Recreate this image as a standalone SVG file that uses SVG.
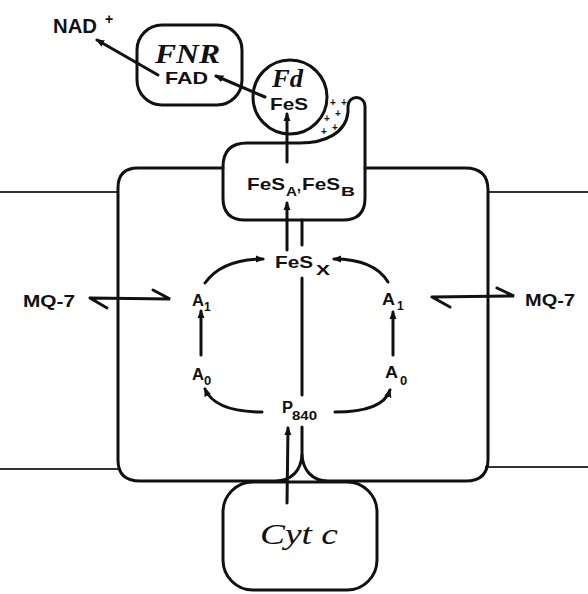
<svg xmlns="http://www.w3.org/2000/svg" width="588" height="594" viewBox="0 0 588 594">
<defs>
<style>
.box{fill:none;stroke:#111;stroke-width:3;stroke-linejoin:round;stroke-linecap:round}
.mem{fill:none;stroke:#333;stroke-width:1.8}
.arr{fill:none;stroke:#111;stroke-width:3;stroke-linecap:round}
.lbl{font-family:"Liberation Sans",Arial,sans-serif;font-weight:bold;fill:#111}
.it{font-family:"Liberation Serif","Times New Roman",serif;font-style:italic;fill:#111}
.plus{font-family:"Liberation Sans",Arial,sans-serif;font-weight:bold;font-size:10px;fill:#111;text-anchor:middle}
</style>
<marker id="ah" viewBox="0 0 10 10" refX="8" refY="5" markerWidth="9" markerHeight="9" markerUnits="userSpaceOnUse" orient="auto">
<path d="M0,1 L10,5 L0,9 Z" fill="#111"/>
</marker>
</defs>
<rect width="588" height="594" fill="#fff"/>

<g id="membrane">
<path class="mem" d="M0,192 L118,192 M488,192 L588,192 M0,469 L121,469 M485,467 L588,467"/>
</g>

<g id="psi-core">
<path class="box" d="M223,168 L138,168 Q118,168 118,188 L118,460 Q118,481 140,481 L275,481 C292,481 301,470 302,455 L302,427"/>
<path class="box" d="M302,455 C303,470 312,481 328,481 L466,481 Q488,481 488,459 L488,190 Q488,168 465,168 L365,168"/>
</g>

<g id="fesab">
<path class="box" d="M247,143 L300,143 C325,143 346,133 348,112 L348,106 A8.5,8.5 0 0 1 365,106 L365,198 Q365,220 343,220 L245,220 Q223,220 223,198 L223,167 Q223,143 247,143 Z" fill="#fff"/>
<text class="lbl" x="247" y="190" font-size="17" textLength="38" lengthAdjust="spacingAndGlyphs">FeS</text>
<text class="lbl" x="286" y="196" font-size="13" textLength="11" lengthAdjust="spacingAndGlyphs">A</text>
<text class="lbl" x="297" y="191" font-size="14">,</text>
<text class="lbl" x="302" y="190" font-size="17" textLength="38" lengthAdjust="spacingAndGlyphs">FeS</text>
<text class="lbl" x="341" y="196" font-size="13" textLength="14" lengthAdjust="spacingAndGlyphs">B</text>
<text class="plus" x="333" y="106">+</text>
<text class="plus" x="344" y="106">+</text>
<text class="plus" x="338" y="117">+</text>
<text class="plus" x="327" y="122">+</text>
<text class="plus" x="335" y="131">+</text>
<text class="plus" x="324" y="135">+</text>
</g>

<g id="fnr">
<rect class="box" x="137" y="25" width="105" height="80" rx="25"/>
<text class="it" x="155" y="63" font-size="27" font-weight="bold" textLength="65" lengthAdjust="spacingAndGlyphs">FNR</text>
<text class="lbl" x="165" y="84" font-size="17" textLength="43" lengthAdjust="spacingAndGlyphs">FAD</text>
</g>

<g id="fd">
<circle class="box" cx="290" cy="97" r="37" fill="#fff"/>
<text class="it" x="272" y="87" font-size="26" font-weight="bold" textLength="31" lengthAdjust="spacingAndGlyphs">Fd</text>
<text class="lbl" x="270" y="110" font-size="17" textLength="38" lengthAdjust="spacingAndGlyphs">FeS</text>
</g>

<g id="nad">
<text class="lbl" x="53" y="33" font-size="20" textLength="44" lengthAdjust="spacingAndGlyphs">NAD</text>
<text class="lbl" x="109" y="24" font-size="14" text-anchor="middle">+</text>
</g>

<g id="fesx">
<text class="lbl" x="275" y="268" font-size="17" textLength="38" lengthAdjust="spacingAndGlyphs">FeS</text>
<text class="lbl" x="316" y="275" font-size="14" textLength="14" lengthAdjust="spacingAndGlyphs">X</text>
</g>

<g id="a1-left">
<text class="lbl" x="192" y="306" font-size="16" textLength="12" lengthAdjust="spacingAndGlyphs">A</text>
<text class="lbl" x="204" y="311" font-size="12">1</text>
</g>
<g id="a0-left">
<text class="lbl" x="192" y="380" font-size="16" textLength="12" lengthAdjust="spacingAndGlyphs">A</text>
<text class="lbl" x="204" y="385" font-size="13">0</text>
</g>
<g id="a1-right">
<text class="lbl" x="382" y="305" font-size="16" textLength="13" lengthAdjust="spacingAndGlyphs">A</text>
<text class="lbl" x="397" y="310" font-size="12">1</text>
</g>
<g id="a0-right">
<text class="lbl" x="385" y="378" font-size="16" textLength="13" lengthAdjust="spacingAndGlyphs">A</text>
<text class="lbl" x="400" y="385" font-size="13">0</text>
</g>

<g id="p840">
<text class="lbl" x="282" y="413" font-size="16" textLength="11" lengthAdjust="spacingAndGlyphs">P</text>
<text class="lbl" x="292" y="420" font-size="12" textLength="25" lengthAdjust="spacingAndGlyphs">840</text>
</g>

<g id="mq7-left">
<text class="lbl" x="23" y="307" font-size="17" textLength="52" lengthAdjust="spacingAndGlyphs">MQ-7</text>
</g>
<g id="mq7-right">
<text class="lbl" x="525" y="306" font-size="17" textLength="50" lengthAdjust="spacingAndGlyphs">MQ-7</text>
</g>

<g id="cytc">
<rect class="box" x="223" y="482" width="154" height="108" rx="30"/>
<text class="it" x="260" y="544" font-size="30" textLength="78" lengthAdjust="spacingAndGlyphs">Cyt c</text>
</g>

<g id="connectors">
<path class="arr" d="M158,75 L97,40" marker-end="url(#ah)"/>
<path class="arr" d="M265,97 L216,76" marker-end="url(#ah)"/>
<path class="arr" d="M287,162 L287,114" marker-end="url(#ah)"/>
<path class="arr" d="M287,250 L287,203" marker-end="url(#ah)"/>
<path class="arr" d="M302,220 L302,245 M302,278 L302,395"/>
<path class="arr" d="M205,283 Q222,259 263,259" marker-end="url(#ah)"/>
<path class="arr" d="M201,355 L201,311" marker-end="url(#ah)"/>
<path class="arr" d="M262,412 Q215,412 205,389" marker-end="url(#ah)"/>
<path class="arr" d="M388,282 Q374,259 334,259" marker-end="url(#ah)"/>
<path class="arr" d="M393,355 L393,312" marker-end="url(#ah)"/>
<path class="arr" d="M335,412 Q383,412 390,390" marker-end="url(#ah)"/>
<path class="arr" d="M287,503 L288,428" marker-end="url(#ah)"/>
<path class="arr" d="M90,298 L170,299 L153,290 M90,298 L107,308"/>
<path class="arr" d="M432,297 L514,296 L497,288 M432,297 L450,307"/>
</g>
</svg>
